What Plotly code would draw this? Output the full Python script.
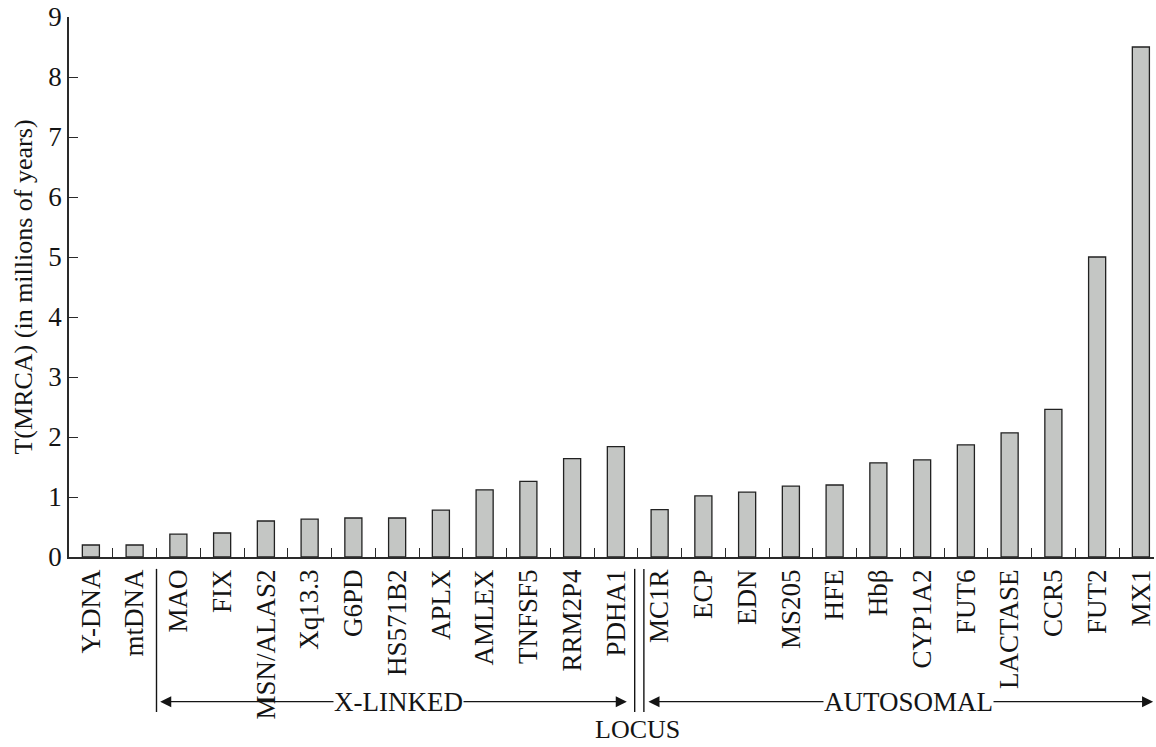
import plotly.graph_objects as go

# Loci in plotting order
loci = ["Y-DNA", "mtDNA",
        "MAO", "FIX", "MSN/ALAS2", "Xq13.3", "G6PD", "HS571B2", "APLX",
        "AMLEX", "TNFSF5", "RRM2P4", "PDHA1",
        "MC1R", "ECP", "EDN", "MS205", "HFE", "Hbβ", "CYP1A2", "FUT6",
        "LACTASE", "CCR5", "FUT2", "MX1"]

# Time to most recent common ancestor, millions of years
tmrca = [0.2, 0.2,
         0.38, 0.4, 0.6, 0.63, 0.65, 0.65, 0.78,
         1.12, 1.26, 1.64, 1.84,
         0.79, 1.02, 1.08, 1.18, 1.2, 1.57, 1.62, 1.87,
         2.07, 2.46, 5.0, 8.5]

y_ticks = list(range(0, 10))

FONT = "Liberation Serif, Times New Roman, serif"
INK = "#141414"
AXIS = "#2a2a2a"

fig = go.Figure(go.Bar(
    x=loci, y=tmrca, width=0.39,
    marker=dict(color="#c4c6c4", line=dict(color="#222222", width=1.3)),
))

fig.update_layout(
    width=1156, height=747,
    margin=dict(l=69, r=0, t=17, b=190),
    paper_bgcolor="white", plot_bgcolor="white",
    showlegend=False,
    font=dict(family=FONT, size=27, color=INK),
)

fig.update_xaxes(
    type="category", range=[-0.5, 24.3],
    showline=True, linecolor=AXIS, linewidth=1.5,
    ticks="inside", tickson="boundaries", ticklen=9, tickwidth=1.3, tickcolor=AXIS,
    tickangle=-90, tickfont=dict(family=FONT, size=27, color=INK),
    showgrid=False, zeroline=False,
)
fig.update_yaxes(
    range=[0, 9], tickvals=y_ticks,
    showline=True, linecolor=AXIS, linewidth=1.5,
    ticks="inside", ticklen=9, tickwidth=1.3, tickcolor=AXIS,
    tickfont=dict(family=FONT, size=27, color=INK),
    title=dict(text="T(MRCA) (in millions of years)", standoff=8,
               font=dict(family=FONT, size=26, color=INK)),
    showgrid=False, zeroline=False,
)

# Group separators under the locus labels
y_top, y_bot = -0.022, -0.287
for xv in [1.5, 12.43, 12.64]:
    fig.add_shape(type="line", xref="x", yref="paper",
                  x0=xv, x1=xv, y0=y_top, y1=y_bot,
                  line=dict(color=INK, width=1.4))

# Group span arrows
y_arrow = -0.268
for left, right in [(1.55, 12.25), (12.71, 24.28)]:
    fig.add_annotation(xref="x", yref="paper", axref="x", ayref="pixel",
                       x=right, y=y_arrow, ax=left, ay=0,
                       text="", showarrow=True, arrowside="end+start",
                       arrowhead=2, startarrowhead=2,
                       arrowsize=1.7, startarrowsize=1.7,
                       arrowwidth=1.3, arrowcolor=INK)

# Group names sit over the arrow lines
for label, xc in [("X-LINKED", 7.02), ("AUTOSOMAL", 18.69)]:
    fig.add_annotation(xref="x", yref="paper", x=xc, y=y_arrow,
                       text=label, showarrow=False, bgcolor="white",
                       borderpad=0, xanchor="center", yanchor="middle",
                       font=dict(family=FONT, size=27, color=INK))

# Axis name below the group arrows
fig.add_annotation(xref="x", yref="paper", x=12.5, y=-0.348,
                   text="LOCUS", showarrow=False,
                   xanchor="center", yanchor="bottom", borderpad=0,
                   font=dict(family=FONT, size=26, color=INK))

fig.write_html("out.html")
